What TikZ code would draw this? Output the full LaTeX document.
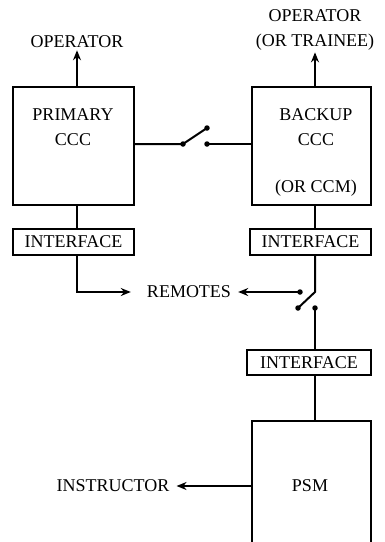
\documentclass[tikz,border=0pt]{standalone}
\usepackage{fontspec}
\setmainfont{Liberation Serif}
\usetikzlibrary{arrows.meta}
\begin{document}
\begin{tikzpicture}[x=1pt,y=-1pt,
  box/.style={draw,line width=2pt,inner sep=0pt,minimum width=#1},
  lbl/.style={inner sep=2pt,font=\fontsize{18}{20}\selectfont},
  wire/.style={line width=2pt},
  arr/.style={line width=2pt,-{Stealth[length=10pt,width=8pt]}},
  dotc/.style={circle,fill,inner sep=0pt,minimum size=5.5pt}]
\useasboundingbox (0,0) rectangle (385,542);
% boxes
\node[box=121pt,minimum height=118pt] (prim) at (73.5,146) {};
\node[box=119pt,minimum height=118pt] (back) at (311.5,146) {};
\node[box=121pt,minimum height=26pt,lbl] (if1) at (73.5,242) {INTERFACE};
\node[box=121pt,minimum height=26pt,lbl] (if2) at (310.5,242) {INTERFACE};
\node[box=124pt,minimum height=25pt,lbl] (if3) at (309,362.5) {INTERFACE};
\node[box=119pt,minimum height=140pt] (psm) at (311.5,491) {};
% texts
\node[lbl] (p1) at (73,115) {PRIMARY};
\node[lbl] (p2) at (73,140) {CCC};
\node[lbl] (b1) at (316,115) {BACKUP};
\node[lbl] (b2) at (316,140) {CCC};
\node[lbl] (b3) at (316,188) {(OR CCM)};
\node[lbl] (op1) at (77,42) {OPERATOR};
\node[lbl] (op2a) at (315,16) {OPERATOR};
\node[lbl] (op2) at (315,42) {(OR TRAINEE)};
\node[lbl] (rem) at (189,292) {REMOTES};
\node[lbl] (ins) at (113,486) {INSTRUCTOR};
\node[lbl] (psmt) at (310,486) {PSM};
% coordinates
\coordinate (s1) at (183,144);
\coordinate (s2) at (207,128);
\coordinate (s3) at (207,144);
\coordinate (s4) at (315,292);
\coordinate (s5) at (298,308);
\coordinate (s6) at (300,292);
\coordinate (s7) at (315,308);
% top outputs
\draw[arr] (op1 |- prim.north) -- (op1.south);
\draw[arr] (op2 |- back.north) -- (op2.south);
% top switch
\draw[wire] (prim.east |- s1) -- (s1) -- (s2);
\draw[wire] (s3) -- (back.west |- s3);
\node[dotc] at (s1) {};
\node[dotc] at (s2) {};
\node[dotc] at (s3) {};
% left column
\draw[wire] (op1 |- prim.south) -- (op1 |- if1.north);
\draw[arr,shorten >=14pt] (op1 |- if1.south) |- (rem.west);
% right column
\draw[wire] (s4 |- back.south) -- (s4 |- if2.north);
\draw[wire] (s4 |- if2.south) -- (s4) -- (s5);
\node[dotc] at (s5) {};
\draw[arr,shorten >=5pt] (s6) -- (s6 -| rem.east);
\node[dotc] at (s6) {};
\draw[wire] (s7) -- (s7 |- if3.north);
\node[dotc] at (s7) {};
\draw[wire] (s7 |- if3.south) -- (s7 |- psm.north);
\draw[arr,shorten >=5pt] (psm.west |- psmt) -- (psmt -| ins.east);
\end{tikzpicture}
\end{document}
